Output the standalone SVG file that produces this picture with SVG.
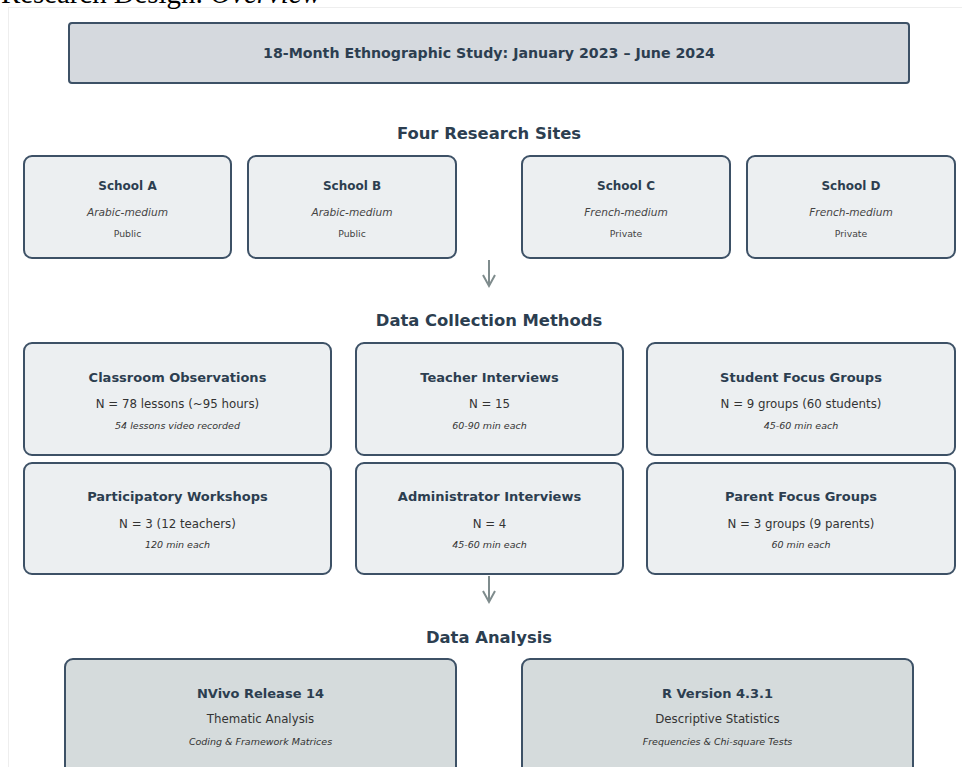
<svg xmlns="http://www.w3.org/2000/svg" width="962" height="767" viewBox="0 0 962 767">
<style>
.t{font-family:"DejaVu Sans","Noto Sans",sans-serif;fill:#2c3e50;text-anchor:middle}
.h{font-size:16.4px;font-weight:bold}
.bt{font-size:13px;font-weight:bold}
.st{font-size:12px;font-weight:bold}
.it{font-size:10.6px;font-style:italic;fill:#444}
.sm{font-size:9.3px;fill:#444}
.n{font-size:11.8px;fill:#333}
.ni{font-size:9.5px;font-style:italic;fill:#333}
.site{fill:#eceff1;stroke:#3d5166;stroke-width:2}
.meth{fill:#eceff1;stroke:#3d5166;stroke-width:2}
.ana{fill:#d5dbdc;stroke:#3d5166;stroke-width:2}
.arr{stroke:#7f8c8d;stroke-width:2;fill:none}
</style>
<rect width="962" height="767" fill="#fff"/>
<rect x="8.5" y="7.5" width="970" height="800" fill="none" stroke="#eeeeee" stroke-width="1"/>
<text x="1" y="3" font-family="Liberation Serif,serif" font-size="28.8" fill="#000">Research Design: <tspan font-style="italic">Overview</tspan></text>

<g id="study">
<rect x="69" y="23" width="840" height="60" rx="3" fill="#d5d9de" stroke="#3d5166" stroke-width="2"/>
<text class="t" x="489" y="58" font-size="14.2" font-weight="bold">18-Month Ethnographic Study: January 2023 – June 2024</text>
</g>

<text class="t h" x="489" y="139">Four Research Sites</text>

<g id="schoolA"><rect class="site" x="24" y="156" width="207" height="102" rx="8"/>
<text class="t st" x="127.5" y="190">School A</text><text class="t it" x="127.5" y="216">Arabic-medium</text><text class="t sm" x="127.5" y="237">Public</text></g>
<g id="schoolB"><rect class="site" x="248" y="156" width="208" height="102" rx="8"/>
<text class="t st" x="352" y="190">School B</text><text class="t it" x="352" y="216">Arabic-medium</text><text class="t sm" x="352" y="237">Public</text></g>
<g id="schoolC"><rect class="site" x="522" y="156" width="208" height="102" rx="8"/>
<text class="t st" x="626" y="190">School C</text><text class="t it" x="626" y="216">French-medium</text><text class="t sm" x="626" y="237">Private</text></g>
<g id="schoolD"><rect class="site" x="747" y="156" width="208" height="102" rx="8"/>
<text class="t st" x="851" y="190">School D</text><text class="t it" x="851" y="216">French-medium</text><text class="t sm" x="851" y="237">Private</text></g>

<text class="t h" x="489" y="326">Data Collection Methods</text>

<g id="obs"><rect class="meth" x="24" y="343" width="307" height="112" rx="8"/>
<text class="t bt" x="177.5" y="382">Classroom Observations</text><text class="t n" x="177.5" y="408">N = 78 lessons (~95 hours)</text><text class="t ni" x="177.5" y="429">54 lessons video recorded</text></g>
<g id="tint"><rect class="meth" x="356" y="343" width="267" height="112" rx="8"/>
<text class="t bt" x="489.5" y="382">Teacher Interviews</text><text class="t n" x="489.5" y="408">N = 15</text><text class="t ni" x="489.5" y="429">60-90 min each</text></g>
<g id="sfg"><rect class="meth" x="647" y="343" width="308" height="112" rx="8"/>
<text class="t bt" x="801" y="382">Student Focus Groups</text><text class="t n" x="801" y="408">N = 9 groups (60 students)</text><text class="t ni" x="801" y="429">45-60 min each</text></g>
<g id="pw"><rect class="meth" x="24" y="463" width="307" height="111" rx="8"/>
<text class="t bt" x="177.5" y="501">Participatory Workshops</text><text class="t n" x="177.5" y="528">N = 3 (12 teachers)</text><text class="t ni" x="177.5" y="548">120 min each</text></g>
<g id="aint"><rect class="meth" x="356" y="463" width="267" height="111" rx="8"/>
<text class="t bt" x="489.5" y="501">Administrator Interviews</text><text class="t n" x="489.5" y="528">N = 4</text><text class="t ni" x="489.5" y="548">45-60 min each</text></g>
<g id="pfg"><rect class="meth" x="647" y="463" width="308" height="111" rx="8"/>
<text class="t bt" x="801" y="501">Parent Focus Groups</text><text class="t n" x="801" y="528">N = 3 groups (9 parents)</text><text class="t ni" x="801" y="548">60 min each</text></g>

<text class="t h" x="489" y="643">Data Analysis</text>

<g id="nvivo"><rect class="ana" x="65" y="659" width="391" height="130" rx="8"/>
<text class="t bt" x="260.5" y="698">NVivo Release 14</text><text class="t n" x="260.5" y="723">Thematic Analysis</text><text class="t ni" x="260.5" y="745">Coding &amp; Framework Matrices</text></g>
<g id="rver"><rect class="ana" x="522" y="659" width="391" height="130" rx="8"/>
<text class="t bt" x="717.5" y="698">R Version 4.3.1</text><text class="t n" x="717.5" y="723">Descriptive Statistics</text><text class="t ni" x="717.5" y="745">Frequencies &amp; Chi-square Tests</text></g>

<g id="connectors">
<path class="arr" d="M489 260V286M483 275l6 11 6-11"/>
<path class="arr" d="M489 576V602M483 591l6 11 6-11"/>
</g>
</svg>
